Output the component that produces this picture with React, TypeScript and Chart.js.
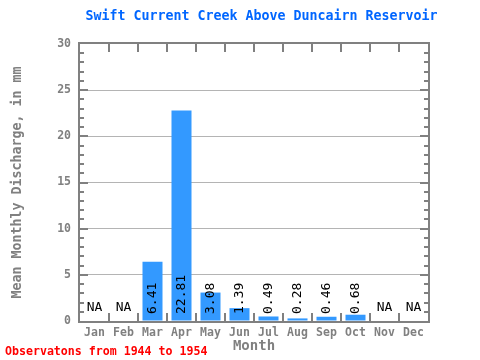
import React, { useEffect, useRef } from "react";
import { Chart, registerables } from "chart.js";

Chart.register(...registerables);

const TITLE = "Swift Current Creek Above Duncairn Reservoir";
const FOOTNOTE = "Observatons from 1944 to 1954";
const Y_TITLE = "Mean Monthly Discharge, in mm";
const X_TITLE = "Month";
const MONTHS = ["Jan", "Feb", "Mar", "Apr", "May", "Jun", "Jul", "Aug", "Sep", "Oct", "Nov", "Dec"];
const DISCHARGE: (number | null)[] = [null, null, 6.41, 22.81, 3.08, 1.39, 0.49, 0.28, 0.46, 0.68, null, null];
const VALUE_LABELS = ["NA", "NA", "6.41", "22.81", "3.08", "1.39", "0.49", "0.28", "0.46", "0.68", "NA", "NA"];
const Y_MIN = 0;
const Y_MAX = 30;
const Y_STEP = 5;

const MONO = '"DejaVu Sans Mono", "Liberation Mono", monospace';
const GRAY = "#808080";

const decorPlugin = {
  id: "decor",
  afterDatasetsDraw(chart: any) {
    const { ctx, chartArea, scales } = chart;
    const { left, right, top, bottom } = chartArea;
    const x = scales.x;
    const y = scales.y;
    ctx.save();
    // frame
    ctx.strokeStyle = GRAY;
    ctx.lineWidth = 2;
    ctx.strokeRect(left - 1, top - 1, right - left + 2, bottom - top + 2);
    // y minor/major ticks both sides
    ctx.beginPath();
    for (let v = Y_MIN + 1; v < Y_MAX; v++) {
      const py = Math.round(y.getPixelForValue(v));
      const len = v % Y_STEP === 0 ? 8 : 4;
      ctx.moveTo(left, py);
      ctx.lineTo(left + len, py);
      ctx.moveTo(right, py);
      ctx.lineTo(right - len, py);
    }
    // x ticks between categories, top and bottom
    const n = MONTHS.length;
    const slot = (right - left) / n;
    for (let i = 1; i < n; i++) {
      const px = Math.round(left + slot * i);
      ctx.moveTo(px, bottom);
      ctx.lineTo(px, bottom - 8);
      ctx.moveTo(px, top);
      ctx.lineTo(px, top + 8);
    }
    ctx.stroke();

    // value labels
    const meta = chart.getDatasetMeta(0);
    ctx.fillStyle = "#000000";
    ctx.font = `13px ${MONO}`;
    for (let i = 0; i < n; i++) {
      const v = DISCHARGE[i];
      const cx = x.getPixelForValue(i);
      if (v === null) {
        ctx.textAlign = "center";
        ctx.textBaseline = "middle";
        ctx.fillText(VALUE_LABELS[i], cx, bottom - 13);
      } else {
        const bx = meta.data[i].x;
        ctx.save();
        ctx.translate(bx, bottom - 7);
        ctx.rotate(-Math.PI / 2);
        ctx.textAlign = "left";
        ctx.textBaseline = "middle";
        ctx.fillText(VALUE_LABELS[i], 0, 0);
        ctx.restore();
      }
    }

    // title
    ctx.fillStyle = "#0066ff";
    ctx.font = `bold 13.3px ${MONO}`;
    ctx.textAlign = "center";
    ctx.textBaseline = "middle";
    ctx.fillText(TITLE, 261.5, 17);

    // footnote
    ctx.fillStyle = "#ff0000";
    ctx.font = `bold 11.6px ${MONO}`;
    ctx.textAlign = "left";
    ctx.textBaseline = "middle";
    ctx.fillText(FOOTNOTE, 5, 352);
    ctx.restore();
  },
};

export default function App() {
  const ref = useRef<HTMLCanvasElement>(null);
  useEffect(() => {
    if (!ref.current) return;
    const chart = new Chart(ref.current, {
      type: "bar",
      data: {
        labels: MONTHS,
        datasets: [
          {
            data: DISCHARGE,
            backgroundColor: "#3399ff",
            borderWidth: 0,
            barPercentage: 0.69,
            categoryPercentage: 1,
          },
        ],
      },
      options: {
        animation: false,
        responsive: false,
        maintainAspectRatio: false,
        layout: { padding: { top: 44, right: 52, left: 0, bottom: 0 } },
        plugins: {
          legend: { display: false },
          tooltip: { enabled: false },
          title: { display: false },
        },
        scales: {
          x: {
            type: "category",
            afterFit: (s: any) => {
              s.height = 39;
            },
            grid: { display: false, drawTicks: false },
            border: { display: false },
            ticks: {
              color: GRAY,
              font: { family: MONO, size: 11.5, weight: "bold" },
              padding: 5,
              maxRotation: 0,
              autoSkip: false,
            },
            title: {
              display: true,
              text: X_TITLE,
              color: GRAY,
              font: { family: MONO, size: 14, weight: "bold" },
              padding: { top: 0, bottom: 5 },
            },
          },
          y: {
            min: Y_MIN,
            max: Y_MAX,
            afterFit: (s: any) => {
              s.width = 80;
            },
            grid: {
              drawTicks: false,
              color: (c: any) =>
                c.tick && (c.tick.value === Y_MIN || c.tick.value === Y_MAX) ? "rgba(0,0,0,0)" : "#b4b4b4",
              lineWidth: 1,
            },
            border: { display: false },
            ticks: {
              stepSize: Y_STEP,
              color: GRAY,
              font: { family: MONO, size: 11.5, weight: "bold" },
              padding: 9,
            },
            title: {
              display: true,
              text: Y_TITLE,
              color: GRAY,
              font: { family: MONO, size: 13.3, weight: "bold" },
              padding: { top: 10, bottom: 0 },
            },
          },
        },
      },
      plugins: [decorPlugin],
    });
    return () => chart.destroy();
  }, []);
  return (
    <div style={{ position: "fixed", left: 0, top: 0, width: 480, height: 360, background: "#ffffff" }}>
      <canvas ref={ref} width={480} height={360} style={{ width: 480, height: 360 }} />
    </div>
  );
}
